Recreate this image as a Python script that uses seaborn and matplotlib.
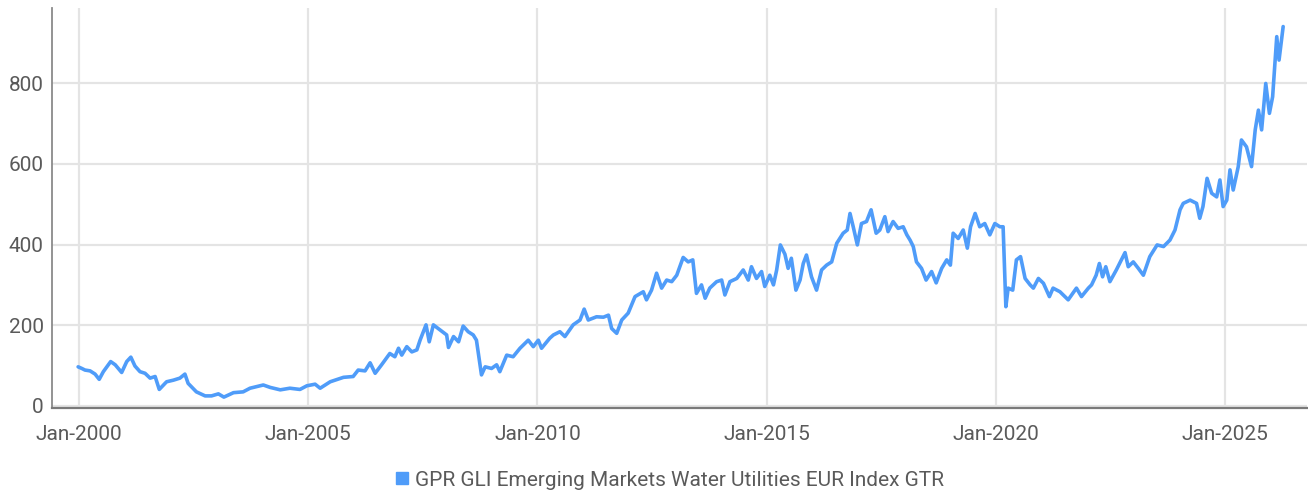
import pandas as pd
import matplotlib
matplotlib.use("Agg")
import matplotlib.pyplot as plt
import seaborn as sns
from matplotlib import font_manager
from matplotlib.lines import Line2D
import matplotlib.dates as mdates

# Index level (decimal year, value)
years = [
    1999.98, 2000.06, 2000.13, 2000.24, 2000.35, 2000.44, 2000.53, 2000.69, 2000.79, 2000.93,
    2001.04, 2001.13, 2001.22, 2001.33, 2001.44, 2001.55, 2001.66, 2001.75, 2001.91, 2002.06,
    2002.20, 2002.31, 2002.38, 2002.56, 2002.75, 2002.89, 2003.04, 2003.16, 2003.37, 2003.58,
    2003.73, 2004.02, 2004.17, 2004.39, 2004.60, 2004.82, 2004.97, 2005.15, 2005.26, 2005.48,
    2005.77, 2005.98, 2006.09, 2006.24, 2006.35, 2006.46, 2006.60, 2006.78, 2006.89, 2006.97,
    2007.04, 2007.15, 2007.26, 2007.37, 2007.44, 2007.57, 2007.64, 2007.73, 2007.88, 2008.02,
    2008.06, 2008.17, 2008.28, 2008.38, 2008.49, 2008.60, 2008.67, 2008.78, 2008.86, 2009.00,
    2009.11, 2009.18, 2009.33, 2009.47, 2009.62, 2009.80, 2009.91, 2010.02, 2010.09, 2010.27,
    2010.35, 2010.49, 2010.60, 2010.78, 2010.93, 2011.02, 2011.11, 2011.29, 2011.44, 2011.55,
    2011.62, 2011.73, 2011.84, 2011.98, 2012.13, 2012.31, 2012.38, 2012.49, 2012.60, 2012.71,
    2012.82, 2012.93, 2013.04, 2013.18, 2013.29, 2013.39, 2013.47, 2013.58, 2013.66, 2013.76,
    2013.91, 2014.02, 2014.09, 2014.20, 2014.35, 2014.49, 2014.60, 2014.67, 2014.78, 2014.89,
    2014.96, 2015.07, 2015.15, 2015.22, 2015.30, 2015.40, 2015.47, 2015.54, 2015.64, 2015.73,
    2015.80, 2015.87, 2015.98, 2016.09, 2016.20, 2016.31, 2016.42, 2016.53, 2016.67, 2016.76,
    2016.82, 2016.89, 2016.98, 2017.07, 2017.18, 2017.28, 2017.39, 2017.47, 2017.58, 2017.65,
    2017.76, 2017.87, 2017.98, 2018.06, 2018.13, 2018.20, 2018.27, 2018.38, 2018.48, 2018.60,
    2018.70, 2018.82, 2018.93, 2019.01, 2019.07, 2019.18, 2019.29, 2019.38, 2019.45, 2019.55,
    2019.65, 2019.76, 2019.87, 2019.98, 2020.09, 2020.16, 2020.22, 2020.27, 2020.37, 2020.45,
    2020.54, 2020.64, 2020.75, 2020.82, 2020.93, 2021.04, 2021.17, 2021.25, 2021.40, 2021.58,
    2021.76, 2021.87, 2022.02, 2022.09, 2022.19, 2022.26, 2022.33, 2022.40, 2022.49, 2022.63,
    2022.74, 2022.82, 2022.89, 2023.00, 2023.11, 2023.22, 2023.36, 2023.52, 2023.66, 2023.80,
    2023.91, 2024.02, 2024.09, 2024.24, 2024.38, 2024.45, 2024.52, 2024.61, 2024.71, 2024.82,
    2024.89, 2024.96, 2025.04, 2025.11, 2025.18, 2025.29, 2025.36, 2025.47, 2025.58, 2025.66,
    2025.73, 2025.80, 2025.89, 2025.97, 2026.04, 2026.13, 2026.18, 2026.27,
]
values = [
    97, 93, 89, 87, 79, 66, 85, 110, 102, 83,
    110, 121, 99, 85, 81, 69, 73, 41, 60, 64,
    69, 79, 56, 35, 25, 25, 30, 22, 33, 35,
    44, 52, 46, 40, 44, 41, 50, 54, 44, 60,
    71, 73, 89, 87, 107, 81, 102, 130, 122, 143,
    126, 147, 134, 139, 163, 201, 159, 201, 188, 176,
    145, 172, 159, 198, 184, 176, 163, 77, 97, 93,
    102, 85, 126, 122, 143, 163, 147, 163, 143, 168,
    176, 184, 172, 201, 213, 240, 213, 221, 220, 225,
    192, 180, 213, 230, 271, 283, 263, 287, 329, 292,
    312, 308, 324, 368, 357, 362, 279, 300, 267, 292,
    308, 312, 275, 308, 316, 337, 312, 345, 316, 333,
    296, 324, 300, 337, 399, 376, 341, 366, 287, 312,
    353, 374, 320, 287, 337, 349, 357, 403, 428, 436,
    477, 444, 399, 452, 457, 486, 428, 436, 469, 432,
    457, 440, 444, 424, 411, 395, 357, 341, 312, 333,
    305, 341, 362, 349, 428, 415, 436, 391, 444, 477,
    444, 452, 424, 452, 444, 444, 246, 292, 287, 362,
    370, 316, 300, 292, 316, 304, 271, 292, 283, 263,
    292, 271, 292, 300, 324, 353, 320, 345, 308, 337,
    362, 380, 345, 357, 341, 324, 370, 399, 395, 411,
    436, 486, 502, 510, 502, 465, 494, 564, 527, 518,
    560, 494, 510, 585, 535, 593, 659, 642, 593, 684,
    733, 684, 799, 725, 766, 915, 857, 940,
]
series_name = "GPR GLI Emerging Markets Water Utilities EUR Index GTR"
tick_years = [2000, 2005, 2010, 2015, 2020, 2025]
y_ticks = [0, 200, 400, 600, 800]

# decimal years -> dates
start = pd.Timestamp("2000-01-01")
df = pd.DataFrame({
    "date": [start + pd.Timedelta(days=(y - 2000) * 365.25) for y in years],
    "value": values,
})

sns.set_theme(style="white")
available = {f.name for f in font_manager.fontManager.ttflist}
if "Liberation Sans Narrow" in available:
    plt.rcParams["font.family"] = ["Liberation Sans Narrow", "DejaVu Sans"]
    fsize = 18
else:
    plt.rcParams["font.family"] = ["Roboto", "DejaVu Sans"]
    fsize = 15

line_color = "#4f9cf9"
text_color = "#5a5a5a"

fig = plt.figure(figsize=(13.08, 4.93), dpi=100)
ax = fig.add_axes([52 / 1308, 1 - 408 / 493, 1255 / 1308, 400 / 493])

sns.lineplot(data=df, x="date", y="value", ax=ax, color=line_color, linewidth=2.6)

# axes limits
ax.set_xlim(start + pd.Timedelta(days=-0.59 * 365.25), start + pd.Timedelta(days=26.79 * 365.25))
ax.set_ylim(-5, 986)

ax.set_xticks([pd.Timestamp(f"{y}-01-01") for y in tick_years])
ax.xaxis.set_major_formatter(mdates.DateFormatter("%b-%Y"))
ax.set_yticks(y_ticks)

ax.grid(True, color="#e4e4e4", linewidth=1.6)
ax.set_axisbelow(True)
ax.set_xlabel("")
ax.set_ylabel("")
ax.tick_params(axis="both", length=0, labelsize=fsize, colors=text_color)
ax.tick_params(axis="x", pad=12)
ax.tick_params(axis="y", pad=6)

for side in ["top", "right"]:
    ax.spines[side].set_visible(False)
ax.spines["left"].set_color("#8a8a8a")
ax.spines["left"].set_linewidth(1.3)
ax.spines["bottom"].set_color("#7a7a7a")
ax.spines["bottom"].set_linewidth(1.6)

# legend with square marker below the plot
handle = Line2D([], [], marker="s", linestyle="None", color=line_color, markersize=8)
fig.legend([handle], [series_name], loc="center", bbox_to_anchor=(670 / 1308, 1 - 480 / 493),
           frameon=False, fontsize=fsize, labelcolor=text_color,
           handlelength=0.6, handletextpad=0.3, borderpad=0)

fig.savefig("out.png", dpi=100)
